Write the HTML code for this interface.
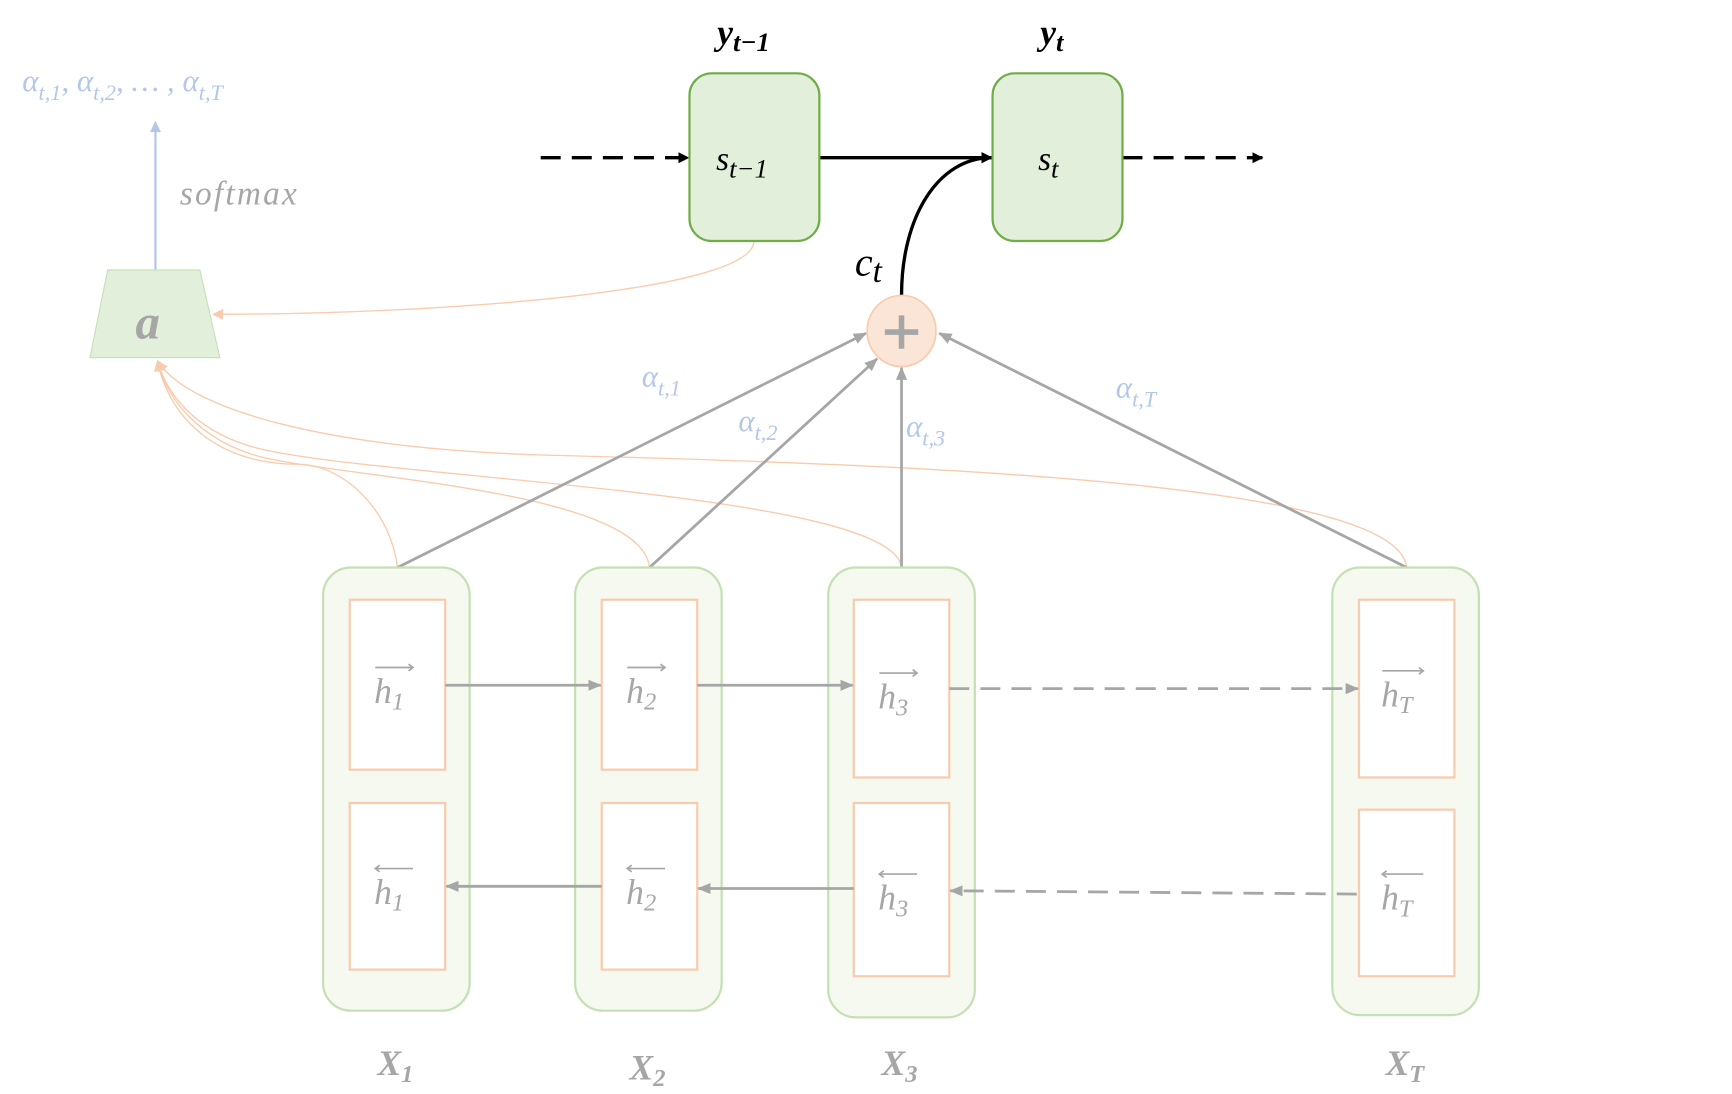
<!DOCTYPE html>
<html><head><meta charset="utf-8"><style>
html,body{margin:0;padding:0;background:#fff;}
svg{display:block;}
text{font-family:"Liberation Serif","DejaVu Serif",serif;font-style:italic;}
</style></head><body>
<svg width="1732" height="1094" viewBox="0 0 1560 985" preserveAspectRatio="none" xmlns="http://www.w3.org/2000/svg">
<defs>
<marker id="ab" markerWidth="10" markerHeight="10" refX="9" refY="5" orient="auto" markerUnits="userSpaceOnUse"><path d="M0,0 L10,5 L0,10 z" fill="#000"/></marker>
<marker id="ag" markerWidth="12" markerHeight="10" refX="11" refY="5" orient="auto" markerUnits="userSpaceOnUse"><path d="M0,0 L12,5 L0,10 z" fill="#a6a6a6"/></marker>
<marker id="ao" markerWidth="10" markerHeight="10" refX="9" refY="5" orient="auto" markerUnits="userSpaceOnUse"><path d="M0,0 L10,5 L0,10 z" fill="#f8cbad"/></marker>
<marker id="abl" markerWidth="10" markerHeight="10" refX="9" refY="5" orient="auto" markerUnits="userSpaceOnUse"><path d="M0,0 L10,5 L0,10 z" fill="#b4c7e7"/></marker>
</defs>

<!-- attention curves -->
<g fill="none" stroke="#f8cbad" stroke-width="1.2">
<path d="M679 217 C679 262 400 283 192 283" marker-end="url(#ao)"/>
<path d="M358 511 C352 460 310 418 268 418 C190 418 150 370 142 325" marker-end="url(#ao)"/>
<path d="M585 511 C578 440 300 430 230 410 C180 395 150 360 142 325" marker-end="url(#ao)"/>
<path d="M812 511 C805 440 300 430 220 400 C175 385 150 355 142 325" marker-end="url(#ao)"/>
<path d="M1267 511 C1260 440 900 420 500 410 C300 405 170 370 142 325" marker-end="url(#ao)"/>
</g>

<!-- left side -->
<line x1="140" y1="243" x2="140" y2="110" stroke="#b4c7e7" stroke-width="2" marker-end="url(#abl)"/>
<text x="20" y="82" font-size="28" fill="#b4c7e7">α<tspan font-size="20" dy="8">t,1</tspan><tspan dy="-8">, α</tspan><tspan font-size="20" dy="8">t,2</tspan><tspan dy="-8">, … , α</tspan><tspan font-size="20" dy="8">t,T</tspan></text>
<text x="162" y="184" font-size="30" fill="#a6a6a6" letter-spacing="2">softmax</text>
<polygon points="97,243 180,243 198,322 81,322" fill="#e2efda" stroke="#c5e0b4" stroke-width="1"/>
<text x="133" y="305" font-size="44" font-weight="bold" fill="#a6a6a6" text-anchor="middle">a</text>

<!-- decoder -->
<line x1="487" y1="142" x2="620" y2="142" stroke="#000" stroke-width="3" stroke-dasharray="18,10" marker-end="url(#ab)"/>
<line x1="738" y1="142" x2="893" y2="142" stroke="#000" stroke-width="3" marker-end="url(#ab)"/>
<line x1="1011" y1="142" x2="1137" y2="142" stroke="#000" stroke-width="3" stroke-dasharray="18,10" marker-end="url(#ab)"/>
<path d="M812 266 C812 195 845 142 893 142" fill="none" stroke="#000" stroke-width="3" marker-end="url(#ab)"/>
<rect x="621" y="66" width="117" height="151" rx="20" fill="#e2efda" stroke="#70ad47" stroke-width="2"/>
<rect x="894" y="66" width="117" height="151" rx="20" fill="#e2efda" stroke="#70ad47" stroke-width="2"/>
<text x="645" y="153" font-size="30" fill="#000">s<tspan font-size="24" dy="7">t−1</tspan></text>
<text x="935" y="153" font-size="30" fill="#000">s<tspan font-size="24" dy="7">t</tspan></text>
<text x="646" y="40" font-size="32" font-weight="bold" fill="#000">y<tspan font-size="24" dy="6">t−1</tspan></text>
<text x="937" y="40" font-size="32" font-weight="bold" fill="#000">y<tspan font-size="24" dy="6">t</tspan></text>
<text x="770" y="248" font-size="36" fill="#000">c<tspan font-size="30" dy="6">t</tspan></text>

<!-- gray arrows to sum -->
<g stroke="#a6a6a6" stroke-width="2.5" fill="none">
<line x1="358" y1="511" x2="780" y2="300" marker-end="url(#ag)"/>
<line x1="585" y1="511" x2="790" y2="323" marker-end="url(#ag)"/>
<line x1="812" y1="511" x2="812" y2="331" marker-end="url(#ag)"/>
<line x1="1267" y1="511" x2="846" y2="300" marker-end="url(#ag)"/>
</g>
<ellipse cx="812" cy="298" rx="31" ry="32" fill="#fbe5d6" stroke="#f8cbad" stroke-width="1.5"/>
<path d="M812 284 V314 M797 299 H827" stroke="#a6a6a6" stroke-width="5"/>
<g font-size="28" fill="#b4c7e7">
<text x="578" y="348">α<tspan font-size="20" dy="8">t,1</tspan></text>
<text x="665" y="388">α<tspan font-size="20" dy="8">t,2</tspan></text>
<text x="816" y="393">α<tspan font-size="20" dy="8">t,3</tspan></text>
<text x="1005" y="358">α<tspan font-size="20" dy="8">t,T</tspan></text>
</g>

<!-- columns -->
<g fill="#f5f9f0" stroke="#c5e0b4" stroke-width="2">
<rect x="291" y="511" width="132" height="399" rx="25"/>
<rect x="518" y="511" width="132" height="399" rx="25"/>
<rect x="746" y="511" width="132" height="405" rx="25"/>
<rect x="1200" y="511" width="132" height="403" rx="25"/>
</g>
<g fill="#fff" stroke="#f8cbad" stroke-width="2">
<rect x="315" y="540" width="86" height="153"/>
<rect x="315" y="723" width="86" height="150"/>
<rect x="542" y="540" width="86" height="153"/>
<rect x="542" y="723" width="86" height="150"/>
<rect x="769" y="540" width="86" height="160"/>
<rect x="769" y="723" width="86" height="156"/>
<rect x="1224" y="540" width="86" height="160"/>
<rect x="1224" y="729" width="86" height="150"/>
</g>

<!-- h arrows -->
<g stroke="#a6a6a6" stroke-width="2.5" fill="none">
<line x1="401" y1="617" x2="541" y2="617" marker-end="url(#ag)"/>
<line x1="628" y1="617" x2="768" y2="617" marker-end="url(#ag)"/>
<line x1="855" y1="620" x2="1223" y2="620" stroke-dasharray="18,10" marker-end="url(#ag)"/>
<line x1="542" y1="798" x2="402" y2="798" marker-end="url(#ag)"/>
<line x1="769" y1="800" x2="629" y2="800" marker-end="url(#ag)"/>
<line x1="1222" y1="805" x2="856" y2="802" stroke-dasharray="18,10" marker-end="url(#ag)"/>
</g>

<!-- h labels -->
<g font-size="32" fill="#a6a6a6">
<text x="337" y="633">h<tspan font-size="22" dy="6">1</tspan></text>
<text x="564" y="633">h<tspan font-size="22" dy="6">2</tspan></text>
<text x="791" y="638">h<tspan font-size="22" dy="6">3</tspan></text>
<text x="1244" y="636">h<tspan font-size="22" dy="6">T</tspan></text>
<text x="337" y="814">h<tspan font-size="22" dy="6">1</tspan></text>
<text x="564" y="814">h<tspan font-size="22" dy="6">2</tspan></text>
<text x="791" y="819">h<tspan font-size="22" dy="6">3</tspan></text>
<text x="1244" y="819">h<tspan font-size="22" dy="6">T</tspan></text>
</g>
<g stroke="#a6a6a6" stroke-width="1.5" fill="none">
<path d="M338 601 H372 M368 598 L372 601 L368 604"/>
<path d="M565 601 H599 M595 598 L599 601 L595 604"/>
<path d="M792 606 H826 M822 603 L826 606 L822 609"/>
<path d="M1245 604 H1282 M1278 601 L1282 604 L1278 607"/>
<path d="M338 782 H372 M342 779 L338 782 L342 785"/>
<path d="M565 782 H599 M569 779 L565 782 L569 785"/>
<path d="M792 787 H826 M796 784 L792 787 L796 790"/>
<path d="M1245 787 H1282 M1249 784 L1245 787 L1249 790"/>
</g>

<!-- X labels -->
<g font-size="32" font-weight="bold" fill="#a6a6a6">
<text x="340" y="968">X<tspan font-size="22" dy="6">1</tspan></text>
<text x="567" y="972">X<tspan font-size="22" dy="6">2</tspan></text>
<text x="794" y="968">X<tspan font-size="22" dy="6">3</tspan></text>
<text x="1248" y="968">X<tspan font-size="22" dy="6">T</tspan></text>
</g>
</svg>
</body></html>
